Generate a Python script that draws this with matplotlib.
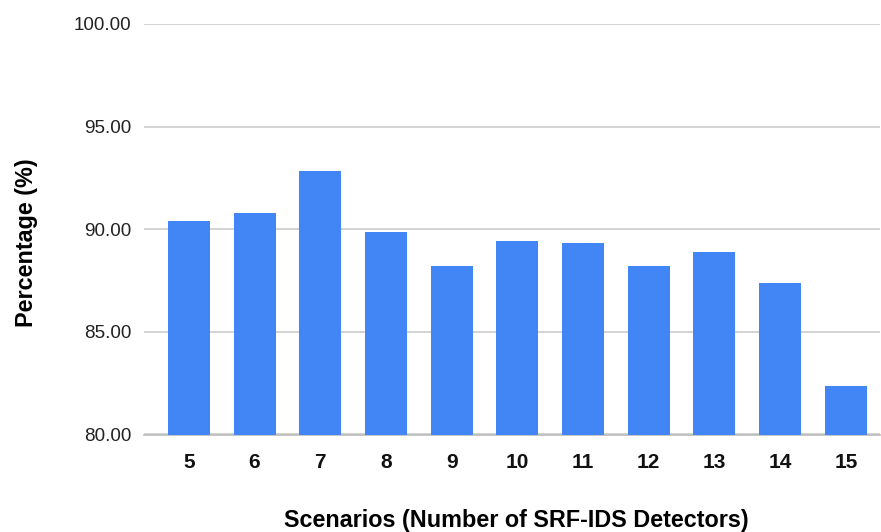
import matplotlib
matplotlib.use("Agg")
import matplotlib.pyplot as plt
import numpy as np

scenarios = ["5", "6", "7", "8", "9", "10", "11", "12", "13", "14", "15"]
percentages = [90.40, 90.79, 92.84, 89.89, 88.20, 89.42, 89.35, 88.20, 88.88, 87.37, 82.36]
y_ticks = [80, 85, 90, 95, 100]

plt.rcParams["font.family"] = ["Liberation Sans", "DejaVu Sans"]

fig = plt.figure(figsize=(8.81, 5.32), dpi=100)
ax = fig.add_axes([143.5 / 881, 1 - 434.5 / 532, (880 - 143.5) / 881, (434.5 - 24) / 532])

x = np.arange(len(scenarios))
ax.bar(x, percentages, width=0.64, color="#4285F4", zorder=3)

ax.set_ylim(80, 100)
ax.set_xlim(-0.69, 10.52)
ax.set_yticks(y_ticks)
ax.set_yticklabels([f"{v:.2f}" for v in y_ticks], fontsize=13.6, color="#222222")
ax.set_xticks(x)
ax.set_xticklabels(scenarios, fontsize=15, fontweight="bold", color="#111111")

ax.grid(axis="y", color="#cccccc", linewidth=1.2, zorder=0)
for side in ["top", "right", "left"]:
    ax.spines[side].set_visible(False)
ax.spines["bottom"].set_color("#bbbbbb")
ax.spines["bottom"].set_linewidth(1.2)
ax.tick_params(axis="y", length=0, pad=8.5)
ax.tick_params(axis="x", length=0, pad=13)

fig.text(516 / 881, 1 - 520 / 532, "Scenarios (Number of SRF-IDS Detectors)",
         ha="center", va="center", fontsize=16.8, fontweight="bold")
fig.text(27 / 881, 1 - 243 / 532, "Percentage (%)", rotation=90,
         ha="center", va="center", fontsize=16.8, fontweight="bold")

fig.savefig("out.png", dpi=100)
